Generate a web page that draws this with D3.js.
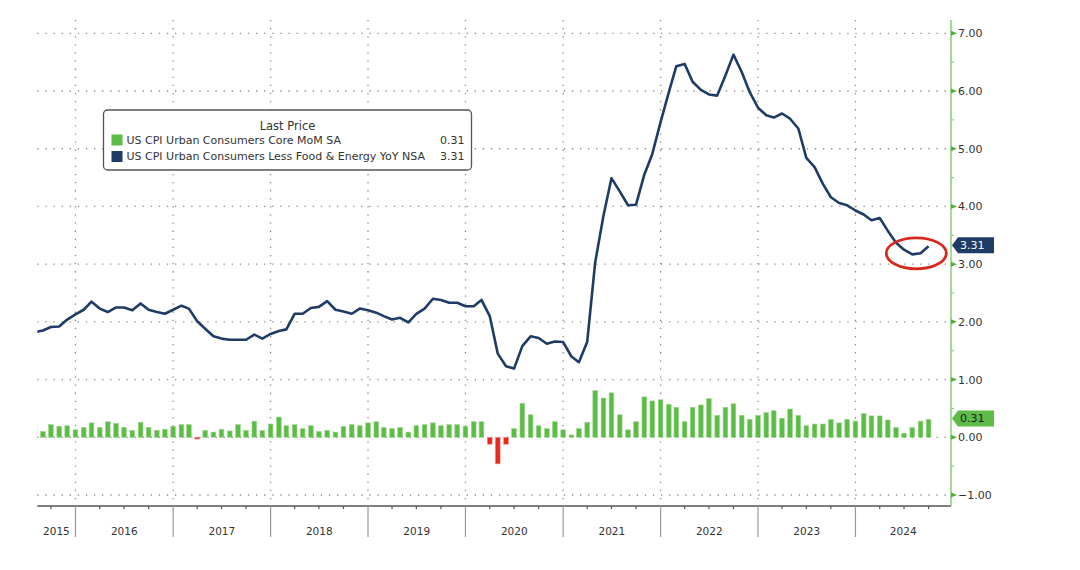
<!DOCTYPE html>
<html>
<head>
<meta charset="utf-8">
<script src="https://cdn.jsdelivr.net/npm/d3@7"></script>
<style>
    body { margin: 0; background: #fff; }
    svg { display: block; font-family: "DejaVu Sans", sans-serif; }
</style>
</head>
<body>
<div id="chart"></div>
<script>
// monthly values, first one is Jul 2015, last one Sep 2024
const coreMoM = [
    0.23, 0.10, 0.22, 0.19, 0.20, 0.13,
    0.17, 0.25, 0.17, 0.27, 0.24, 0.17, 0.12, 0.26, 0.17, 0.12, 0.14, 0.19,
    0.22, 0.22, -0.03, 0.12, 0.09, 0.14, 0.11, 0.22, 0.12, 0.28, 0.12, 0.23,
    0.35, 0.20, 0.22, 0.15, 0.20, 0.10, 0.12, 0.09, 0.19, 0.22, 0.20, 0.25,
    0.27, 0.17, 0.15, 0.17, 0.09, 0.20, 0.22, 0.25, 0.20, 0.22, 0.22, 0.19,
    0.27, 0.27, -0.12, -0.46, -0.12, 0.15, 0.59, 0.39, 0.20, 0.15, 0.27, 0.13,
    0.04, 0.15, 0.26, 0.81, 0.68, 0.77, 0.39, 0.13, 0.27, 0.70, 0.63, 0.65,
    0.57, 0.52, 0.27, 0.52, 0.56, 0.67, 0.38, 0.52, 0.58, 0.38, 0.31, 0.38,
    0.43, 0.46, 0.33, 0.49, 0.38, 0.20, 0.23, 0.23, 0.31, 0.25, 0.31, 0.28,
    0.41, 0.37, 0.37, 0.30, 0.17, 0.07, 0.17, 0.28, 0.31
];
const coreYoY = [
    1.82, 1.85, 1.91, 1.92, 2.04, 2.13,
    2.21, 2.35, 2.23, 2.17, 2.25, 2.25, 2.20, 2.32, 2.21, 2.17, 2.14, 2.21,
    2.28, 2.23, 2.01, 1.88, 1.75, 1.71, 1.69, 1.69, 1.69, 1.78, 1.71, 1.79,
    1.84, 1.87, 2.14, 2.14, 2.24, 2.26, 2.36, 2.21, 2.18, 2.14, 2.23, 2.20,
    2.16, 2.10, 2.04, 2.07, 1.99, 2.14, 2.23, 2.40, 2.38, 2.33, 2.33, 2.27,
    2.27, 2.38, 2.10, 1.45, 1.23, 1.19, 1.58, 1.75, 1.72, 1.62, 1.66, 1.65,
    1.40, 1.30, 1.65, 3.03, 3.84, 4.49, 4.26, 4.02, 4.03, 4.55, 4.91, 5.46,
    5.98, 6.43, 6.47, 6.16, 6.02, 5.94, 5.92, 6.27, 6.63, 6.33, 5.98, 5.71,
    5.58, 5.54, 5.61, 5.52, 5.35, 4.84, 4.68, 4.39, 4.16, 4.06, 4.02, 3.93,
    3.86, 3.76, 3.80, 3.58, 3.37, 3.25, 3.17, 3.19, 3.31
];
const firstYear = 2015, firstMonth = 6; // Jul 2015
const yTicks = [-1, 0, 1, 2, 3, 4, 5, 6, 7];
const yearLabels = ["2015", "2016", "2017", "2018", "2019", "2020", "2021", "2022", "2023", "2024"];
const legendTitle = "Last Price";
const seriesNames = ["US CPI Urban Consumers Core MoM SA", "US CPI Urban Consumers Less Food & Energy YoY NSA"];
const lastLabels = ["0.31", "3.31"];

const width = 1080, height = 570;
const plotLeft = 37.3, plotRight = 951, plotTop = 20, plotBottom = 506;
const navy = "#1f3c66", green = "#5dbb47", red = "#e42a1e", ink = "#333";

// bloomberg puts a month at its period end
const dates = coreMoM.map((d, i) => new Date(firstYear, firstMonth + i + 1, 1));

const x = d3.scaleTime()
    .domain([new Date(2015, 7, 11), new Date(2024, 11, 24)])
    .range([plotLeft, plotRight]);
const y = d3.scaleLinear()
    .domain([-1, 7])
    .range([495, 33.3]);

const svg = d3.select("#chart").append("svg")
    .attr("width", width)
    .attr("height", height)
    .attr("viewBox", [0, 0, width, height]);

svg.append("rect").attr("width", width).attr("height", height).attr("fill", "#fff");

svg.append("clipPath").attr("id", "plot")
    .append("rect")
    .attr("x", plotLeft).attr("y", plotTop)
    .attr("width", plotRight - plotLeft).attr("height", plotBottom - plotTop);

const yearStarts = yearLabels.map(s => new Date(+s, 0, 1));

// dotted grid
svg.append("g")
    .selectAll("line")
    .data(yTicks)
    .join("line")
    .attr("x1", plotLeft).attr("x2", plotRight)
    .attr("y1", d => y(d)).attr("y2", d => y(d))
    .attr("stroke", "#8a8a8a")
    .attr("stroke-width", 1.3)
    .attr("stroke-dasharray", "1.3,6.8");

svg.append("g")
    .selectAll("line")
    .data(yearStarts.slice(1))
    .join("line")
    .attr("x1", d => x(d)).attr("x2", d => x(d))
    .attr("y1", plotTop).attr("y2", plotBottom)
    .attr("stroke", "#8a8a8a")
    .attr("stroke-width", 1.3)
    .attr("stroke-dasharray", "1.3,6.8");

// bars
const plot = svg.append("g").attr("clip-path", "url(#plot)");
const barW = 4.7;
plot.append("g")
    .selectAll("rect")
    .data(coreMoM)
    .join("rect")
    .attr("x", (d, i) => x(dates[i]) - barW / 2)
    .attr("y", d => y(Math.max(0, d)))
    .attr("width", barW)
    .attr("height", d => Math.abs(y(d) - y(0)))
    .attr("fill", d => d < 0 ? red : green)
    .attr("stroke", d => d < 0 ? "#f08a80" : "#9ad88a")
    .attr("stroke-width", 0.6);

// yoy line
plot.append("path")
    .datum(coreYoY)
    .attr("fill", "none")
    .attr("stroke", navy)
    .attr("stroke-width", 2.6)
    .attr("stroke-linejoin", "round")
    .attr("d", d3.line()
        .x((d, i) => x(dates[i]))
        .y(d => y(d)));

// bottom axis
const xAxis = svg.append("g");
xAxis.append("line")
    .attr("x1", plotLeft).attr("x2", plotRight)
    .attr("y1", plotBottom).attr("y2", plotBottom)
    .attr("stroke", "#555").attr("stroke-width", 1.6);
xAxis.selectAll("line.q")
    .data(x.ticks(d3.timeMonth.every(3)).filter(d => d.getMonth() !== 0))
    .join("line")
    .attr("class", "q")
    .attr("x1", d => x(d)).attr("x2", d => x(d))
    .attr("y1", plotBottom).attr("y2", plotBottom + 3)
    .attr("stroke", "#555").attr("stroke-width", 1.2);
xAxis.selectAll("line.yr")
    .data(yearStarts.slice(1))
    .join("line")
    .attr("class", "yr")
    .attr("x1", d => x(d)).attr("x2", d => x(d))
    .attr("y1", plotBottom).attr("y2", 537)
    .attr("stroke", "#999").attr("stroke-width", 1.2);
xAxis.selectAll("text")
    .data(yearLabels)
    .join("text")
    .attr("x", (d, i) => {
        const a = Math.max(plotLeft, x(yearStarts[i]));
        const b = Math.min(plotRight, x(new Date(+d + 1, 0, 1)));
        return (a + b) / 2;
    })
    .attr("y", 535)
    .attr("text-anchor", "middle")
    .attr("fill", ink)
    .attr("font-size", "10.5px")
    .text(d => d);

// right axis
const yAxis = svg.append("g");
yAxis.append("line")
    .attr("x1", plotRight).attr("x2", plotRight)
    .attr("y1", plotTop).attr("y2", plotBottom)
    .attr("stroke", "#86d074").attr("stroke-width", 1.5);
yAxis.selectAll("line.minor")
    .data(d3.range(-0.5, 7, 1))
    .join("line")
    .attr("class", "minor")
    .attr("x1", plotRight).attr("x2", plotRight + 3)
    .attr("y1", d => y(d)).attr("y2", d => y(d))
    .attr("stroke", "#86d074").attr("stroke-width", 1.2);
yAxis.selectAll("path")
    .data(yTicks)
    .join("path")
    .attr("d", d => `M${plotRight},${y(d) - 2.5}L${plotRight + 6},${y(d)}L${plotRight},${y(d) + 2.5}Z`)
    .attr("fill", "#4fae3c");
yAxis.selectAll("text")
    .data(yTicks)
    .join("text")
    .attr("x", plotRight + 7)
    .attr("y", d => y(d))
    .attr("dy", "0.36em")
    .attr("fill", ink)
    .attr("font-size", "11px")
    .text(d => d3.format(".2f")(d));

// last value tags
const tags = [
    {v: coreMoM[coreMoM.length - 1], label: lastLabels[0], fill: green, color: "#1a1a1a"},
    {v: coreYoY[coreYoY.length - 1], label: lastLabels[1], fill: navy, color: "#fff"}
];
const tag = svg.append("g").selectAll("g").data(tags).join("g")
    .attr("transform", d => `translate(${plotRight + 1},${y(d.v) - 1})`);
tag.append("path")
    .attr("d", "M0,0L6,-8H42V8H6Z")
    .attr("fill", d => d.fill);
tag.append("text")
    .attr("x", 8)
    .attr("dy", "0.36em")
    .attr("fill", d => d.color)
    .attr("font-size", "11px")
    .text(d => d.label);

// red circle round the latest low
const lowIdx = coreYoY.length - 3;
svg.append("ellipse")
    .attr("cx", x(dates[lowIdx]) + 4)
    .attr("cy", y(coreYoY[lowIdx]) - 1)
    .attr("rx", 30)
    .attr("ry", 15.5)
    .attr("fill", "none")
    .attr("stroke", "#d8261c")
    .attr("stroke-width", 2.8);

// legend
const lg = svg.append("g").attr("transform", "translate(103.5,110)");
lg.append("rect")
    .attr("width", 368).attr("height", 60).attr("rx", 4)
    .attr("fill", "#fff").attr("stroke", "#555").attr("stroke-width", 1.3);
lg.append("text")
    .attr("x", 184).attr("y", 20)
    .attr("text-anchor", "middle")
    .attr("fill", ink).attr("font-size", "11.5px")
    .text(legendTitle);
const row = lg.selectAll("g.row")
    .data(seriesNames)
    .join("g")
    .attr("class", "row")
    .attr("transform", (d, i) => `translate(0,${30 + i * 16.5})`);
row.append("rect")
    .attr("x", 8).attr("y", -5.5)
    .attr("width", 11).attr("height", 11)
    .attr("fill", (d, i) => i ? navy : green);
row.append("text")
    .attr("x", 23).attr("y", 0)
    .attr("dy", "0.36em")
    .attr("fill", ink).attr("font-size", "11px")
    .text(d => d);
row.append("text")
    .attr("x", 361).attr("y", 0)
    .attr("dy", "0.36em")
    .attr("text-anchor", "end")
    .attr("fill", ink).attr("font-size", "11px")
    .text((d, i) => lastLabels[i]);
</script>
</body>
</html>
